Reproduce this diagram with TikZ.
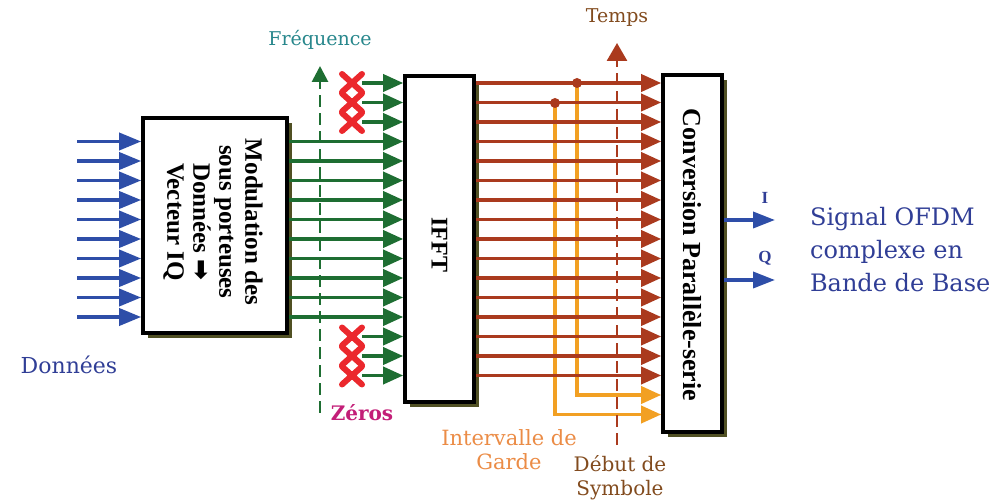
\documentclass[tikz,border=0pt]{standalone}
\usepackage{fontspec}
\setmainfont{Liberation Serif}
\newfontfamily\lblfont{DejaVu Serif}
\newfontfamily\symfont{DejaVu Sans}
\usetikzlibrary{positioning, arrows.meta, shapes.misc, shadows}
\definecolor{dataBlue}{RGB}{46, 78, 168}
\definecolor{textBlue}{RGB}{48, 62, 150}
\definecolor{subGreen}{RGB}{30, 110, 50}
\definecolor{zeroRed}{RGB}{235, 40, 45}
\definecolor{timeBrown}{RGB}{170, 58, 30}
\definecolor{guardOrange}{RGB}{242, 160, 35}
\definecolor{freqTeal}{RGB}{40, 135, 140}
\definecolor{zeroMagenta}{RGB}{195, 30, 120}
\definecolor{labelBrown}{RGB}{130, 75, 30}
\definecolor{guardText}{RGB}{235, 140, 70}
\definecolor{shadowOlive}{RGB}{80, 80, 35}

\begin{document}
\begin{tikzpicture}[x=0.5pt, y=-0.5pt,
    block/.style={draw=black, line width=1.8pt, fill=white, inner sep=0pt,
      drop shadow={shadow xshift=2.5pt, shadow yshift=-2.5pt, fill=shadowOlive, opacity=1}},
    vlabel/.style={rotate=-90, align=center},
    bus/.style={line width=1.8pt, -{Triangle[length=10pt, width=8.5pt]}},
    zero/.style={cross out, draw=zeroRed, line width=3pt, line cap=round, minimum width=7pt, minimum height=6pt, inner sep=0pt},
    axisline/.style={line width=1.4pt, dash pattern=on 6pt off 3pt},
    dot/.style={circle, fill=timeBrown, inner sep=0pt, minimum size=5pt}
  ]
  \useasboundingbox (0,0) rectangle (989,501);

  \node[block, minimum width=72pt, minimum height=107.5pt] (mod) at (215,225.5) {};
  \node[block, minimum width=34.5pt, minimum height=163pt] (ifft) at (439.5,239) {};
  \node[block, minimum width=29.5pt, minimum height=178.5pt] (conv) at (692.5,253.5) {};

  \node[vlabel, font=\bfseries\fontsize{12.5}{13}\selectfont] (modtxt) at (213,222)
    {Modulation des\\sous porteuses\\Données {\symfont ➡}\\Vecteur IQ};
  \node[vlabel, font=\bfseries\fontsize{12}{13}\selectfont] (iffttxt) at (439.5,245) {IFFT};
  \node[vlabel, font=\bfseries\fontsize{13}{14}\selectfont] (convtxt) at (692.5,255) {Conversion Parallèle-serie};

  \foreach \k in {0,...,17}
    \coordinate (row\k) at (0,{83+19.5*\k});

  \foreach \k in {3,...,12} {
    \coordinate (in\k) at (77,{83+19.5*\k});
    \draw[line width=1.8pt, dataBlue, -{Triangle[length=11pt, width=8.5pt]}] (in\k) -- (mod.west |- in\k);
    \draw[bus, subGreen] (mod.east |- in\k) -- (ifft.west |- in\k);
  }

  \foreach \k in {0,1,2,13,14,15} {
    \node[zero] (z\k) at (352,{83+19.5*\k}) {};
    \draw[bus, subGreen] (z\k.east) -- (ifft.west |- z\k);
  }

  \coordinate (g1) at (577,83);
  \coordinate (g2) at (555,103);
  \draw[line width=1.8pt, guardOrange, -{Triangle[length=10pt, width=8.5pt]}] (g1) |- (conv.west |- row16);
  \draw[line width=1.8pt, guardOrange, -{Triangle[length=10pt, width=8.5pt]}] (g2) |- (conv.west |- row17);

  \foreach \k in {0,...,15}
    \draw[bus, timeBrown] (ifft.east |- row\k) -- (conv.west |- row\k);

  \node[dot] (g1dot) at (g1) {};
  \node[dot] (g2dot) at (g2) {};

  \coordinate (fbot) at (320,413);
  \coordinate (ftop) at (320,66);
  \draw[axisline, subGreen, -{Triangle[length=8pt, width=8pt]}] (fbot) -- (ftop);
  \coordinate (tbot) at (617,445);
  \coordinate (ttop) at (617,43);
  \draw[axisline, timeBrown, -{Triangle[length=9pt, width=10pt]}] (tbot) -- (ttop);

  \coordinate (iout) at (775,220);
  \coordinate (qout) at (775,280);
  \draw[line width=1.8pt, dataBlue, -{Triangle[length=11pt, width=8pt]}] (conv.east |- iout) -- (iout);
  \draw[line width=1.8pt, dataBlue, -{Triangle[length=11pt, width=8pt]}] (conv.east |- qout) -- (qout);
  \node[font=\bfseries\fontsize{8.5}{9}\selectfont, text=textBlue] (ilbl) at (765,198) {I};
  \node[font=\bfseries\fontsize{8.5}{9}\selectfont, text=textBlue] (qlbl) at (765,258) {Q};

  \node[font=\lblfont\fontsize{9.5}{11}\selectfont, text=freqTeal] (freq) at (320,40) {Fréquence};
  \node[font=\lblfont\fontsize{9.5}{11}\selectfont, text=labelBrown] (temps) at (617,18) {Temps};
  \node[font=\lblfont\bfseries\fontsize{10}{12}\selectfont, text=zeroMagenta] (zeros) at (362,413) {Zéros};
  \node[font=\lblfont\fontsize{10.5}{12}\selectfont, text=guardText, align=center] (garde) at (509,450) {Intervalle de\\Garde};
  \node[font=\lblfont\fontsize{10}{12}\selectfont, text=labelBrown, align=center] (debut) at (620,478) {Début de\\Symbole};
  \node[font=\lblfont\fontsize{11}{13}\selectfont, text=textBlue] (donnees) at (69,365) {Données};
  \node[font=\lblfont\fontsize{12}{16.5}\selectfont, text=textBlue, align=left, anchor=west] (signal) at (803,250)
    {Signal OFDM\\complexe en\\Bande de Base};
\end{tikzpicture}
\end{document}
